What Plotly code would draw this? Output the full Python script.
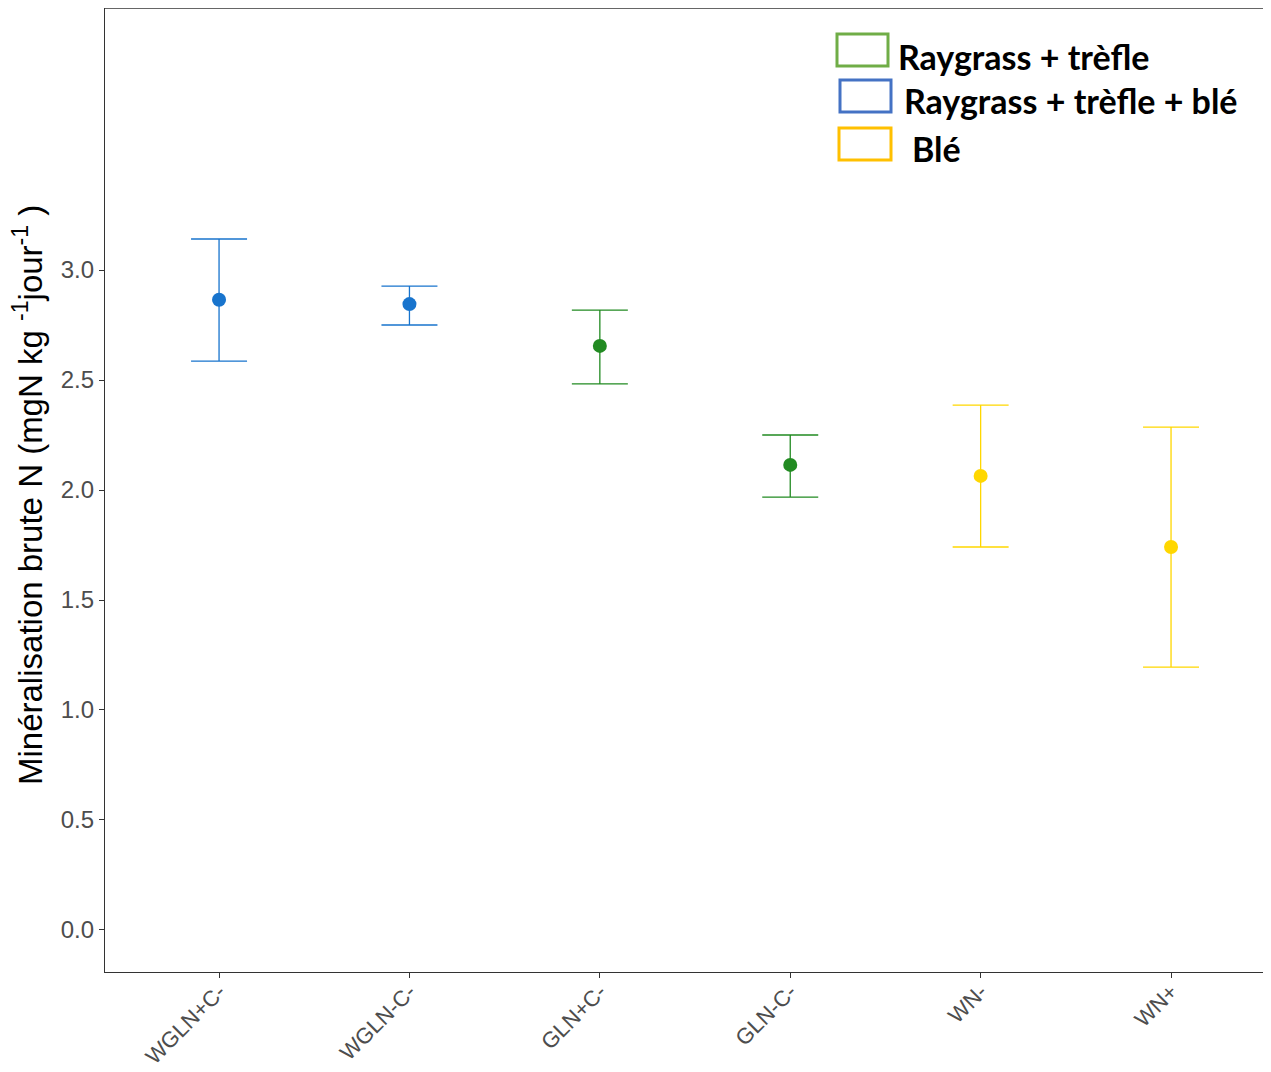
import plotly.graph_objects as go

categories = ["WGLN+C-", "WGLN-C-", "GLN+C-", "GLN-C-", "WN-", "WN+"]
means = [2.865, 2.845, 2.655, 2.114, 2.064, 1.741]
upper = [3.141, 2.927, 2.818, 2.250, 2.386, 2.286]
lower = [2.586, 2.750, 2.482, 1.968, 1.741, 1.195]
colors = ["#1874CD", "#1874CD", "#228B22", "#228B22", "#FFD700", "#FFD700"]
y_ticks = [0.0, 0.5, 1.0, 1.5, 2.0, 2.5, 3.0]
legend_labels = ["Raygrass + trèfle", "Raygrass + trèfle + blé", "Blé"]
legend_colors = ["#70AD47", "#4472C4", "#FFC000"]

fig = go.Figure()
for i, c in enumerate(categories):
    fig.add_trace(go.Scatter(
        x=[i], y=[means[i]], mode="markers",
        marker=dict(color=colors[i], size=14),
        error_y=dict(type="data", symmetric=False,
                     array=[upper[i] - means[i]], arrayminus=[means[i] - lower[i]],
                     color=colors[i], thickness=1.3, width=28),
        showlegend=False,
    ))

# page offset of the figure inside the browser (body margin)
OFF = 8
W, H = 1271 - OFF, 1072 - OFF
L, R, T, B = 105 - OFF, 0, 0, 100
pw, ph = W - L - R, H - T - B

fig.update_layout(
    width=W, height=H,
    margin=dict(l=L, r=R, t=T, b=B, autoexpand=False),
    plot_bgcolor="white", paper_bgcolor="white",
    xaxis=dict(
        range=[-0.599, 5.525], tickmode="array", tickvals=list(range(len(categories))),
        ticktext=categories, tickangle=-45, showgrid=False, zeroline=False,
        showline=True, linecolor="#333333", linewidth=1.3, automargin=False,
        ticks="outside", ticklen=5, tickcolor="#333333", ticklabelstandoff=-8,
        tickfont=dict(family="Liberation Sans, Arial", size=22, color="#4D4D4D"),
    ),
    yaxis=dict(
        range=[-0.191, 4.191], tickmode="array", tickvals=y_ticks,
        ticktext=[f"{v:.1f}" for v in y_ticks], showgrid=False, zeroline=False,
        showline=True, linecolor="#333333", linewidth=1.3, automargin=False,
        ticks="outside", ticklen=5, tickcolor="#333333",
        tickfont=dict(family="Liberation Sans, Arial", size=24, color="#4D4D4D"),
    ),
)

# top border line
fig.add_shape(type="line", xref="paper", yref="paper", x0=0, x1=1, y0=1, y1=1,
              line=dict(color="#333333", width=1.3))


def px(xp):
    return (xp - OFF - L) / pw


def py(yp):
    return 1 - (yp - OFF - T) / ph


# y axis title
fig.add_annotation(
    xref="paper", yref="paper", x=px(28), y=py(495),
    text="Minéralisation brute N (mgN kg <sup>-1</sup>jour<sup>-1</sup> )",
    textangle=-90, showarrow=False, xanchor="center", yanchor="middle",
    font=dict(family="Liberation Sans, Arial", size=33, color="black"),
)

# manual legend
boxes = [(837, 888, 34, 66), (840, 891, 80, 112), (839, 891, 128, 160)]
text_x = [896, 902, 910]
text_y = [56, 101, 148]

for (x0, x1, y0, y1), lab, col, tx, ty in zip(boxes, legend_labels, legend_colors, text_x, text_y):
    fig.add_shape(type="rect", xref="paper", yref="paper",
                  x0=px(x0), x1=px(x1), y0=py(y1), y1=py(y0),
                  line=dict(color=col, width=3), fillcolor="white")
    fig.add_annotation(xref="paper", yref="paper", x=px(tx), y=py(ty),
                       text=f"<b>{lab}</b>", showarrow=False,
                       xanchor="left", yanchor="middle",
                       font=dict(family="Lato", size=34, color="black"))

fig.write_html("out.html")
